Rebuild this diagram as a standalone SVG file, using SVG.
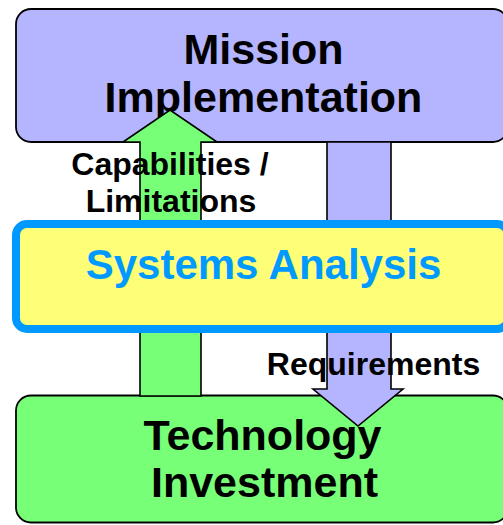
<svg xmlns="http://www.w3.org/2000/svg" width="503" height="525" viewBox="0 0 503 525">
<style>
text{font-family:"Liberation Sans",Arial,sans-serif;font-weight:bold;text-anchor:middle}
.big{font-size:43px;fill:#000}
.lbl{font-size:32px;fill:#000}
.sys{font-size:42px;fill:#0099FF}
.box{stroke:#000;stroke-width:1.8}
.arr{stroke:#000;stroke-width:1.6;stroke-linejoin:miter}
</style>
<rect width="503" height="525" fill="#fff"/>
<g id="mission">
<rect class="box" x="16" y="9" width="492" height="133" rx="15" fill="#B4B4FF"/>
<text class="big" x="263.5" y="64">Mission</text>
<text class="big" x="263.5" y="112">Implementation</text>
</g>
<g id="technology">
<rect class="box" x="16" y="395.5" width="492" height="127" rx="15" fill="#77FF77"/>
<text class="big" x="262.5" y="450">Technology</text>
<text class="big" x="264.5" y="497">Investment</text>
</g>
<g id="connectors">
<path class="arr" d="M140,396 V142 H123 L170,110 L217,142 H201 V396 Z" fill="#77FF77"/>
<path class="arr" d="M327,142 V389 H313 L358,426 L403,389 H391 V142 Z" fill="#B4B4FF"/>
</g>
<g id="systems">
<rect x="16" y="224" width="492" height="105" rx="11" fill="#FFFF77" stroke="#0099FF" stroke-width="8"/>
<text class="sys" x="263.5" y="279">Systems Analysis</text>
</g>
<g id="labels">
<text class="lbl" x="170" y="175">Capabilities /</text>
<text class="lbl" x="171" y="212">Limitations</text>
<text class="lbl" x="373.5" y="375">Requirements</text>
</g>
</svg>
